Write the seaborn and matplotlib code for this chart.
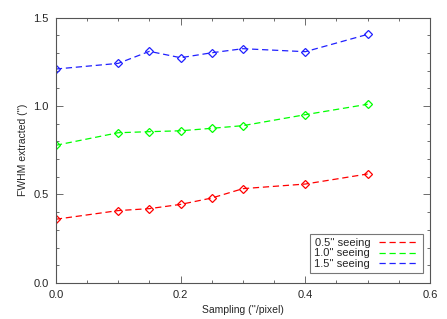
import pandas as pd
import matplotlib.pyplot as plt
import seaborn as sns
from matplotlib.ticker import MultipleLocator

# Valores
sampling = [0.0, 0.1, 0.15, 0.2, 0.25, 0.3, 0.4, 0.5]
fwhm_05 = [0.360, 0.409, 0.420, 0.444, 0.480, 0.533, 0.559, 0.616]
fwhm_10 = [0.778, 0.849, 0.855, 0.860, 0.874, 0.889, 0.951, 1.010]
fwhm_15 = [1.209, 1.241, 1.309, 1.273, 1.301, 1.324, 1.307, 1.405]
labels = ["0.5'' seeing", "1.0'' seeing", "1.5'' seeing"]
colors = ['#ff0000', '#00ff00', '#2020ff']

df = pd.concat([
    pd.DataFrame({'sampling': sampling, 'fwhm': v, 'seeing': lab})
    for v, lab in zip([fwhm_05, fwhm_10, fwhm_15], labels)
])

sns.set_style('ticks')
plt.rcParams['font.family'] = ['Liberation Sans', 'DejaVu Sans']

fig = plt.figure(figsize=(4.47, 3.19), dpi=100)
ax = fig.add_axes([0.125, 0.113, 0.837, 0.832])

for lab, c in zip(labels, colors):
    sub = df[df['seeing'] == lab]
    sns.lineplot(data=sub, x='sampling', y='fwhm', color=c, ax=ax,
                 linewidth=0.9, linestyle=(0, (5, 3)), marker='D',
                 markersize=3.8, markerfacecolor='none', markeredgecolor=c,
                 markeredgewidth=0.9)

ax.set_xlim(0, 0.6)
ax.set_ylim(0, 1.5)
ax.xaxis.set_major_locator(MultipleLocator(0.2))
ax.xaxis.set_minor_locator(MultipleLocator(0.05))
ax.yaxis.set_major_locator(MultipleLocator(0.5))
ax.yaxis.set_minor_locator(MultipleLocator(0.1))
ax.xaxis.set_major_formatter(plt.FormatStrFormatter('%.1f'))
ax.yaxis.set_major_formatter(plt.FormatStrFormatter('%.1f'))
ax.tick_params(which='both', direction='in', top=True, right=True,
               color='#555555', labelsize=8, pad=5)
ax.tick_params(which='major', length=5, width=0.6)
ax.tick_params(which='minor', length=2.5, width=0.6)
for s in ax.spines.values():
    s.set_color('#555555')
    s.set_linewidth(0.8)

ax.set_xlabel("Sampling (''/pixel)", fontsize=7.5)
ax.set_ylabel("FWHM extracted ('')", fontsize=7.5)

handles = [plt.Line2D([], [], color=c, lw=0.9, dashes=[5, 3]) for c in colors]
leg = ax.legend(handles, labels, loc='lower right', markerfirst=False,
                fontsize=8, frameon=True, fancybox=False, handlelength=3.6,
                handletextpad=0.8, labelspacing=0.05, borderpad=0.35,
                borderaxespad=0, bbox_to_anchor=(0.981, 0.038))
leg.get_frame().set_edgecolor('#555555')
leg.get_frame().set_linewidth(0.8)

fig.savefig('out.png', dpi=100)
